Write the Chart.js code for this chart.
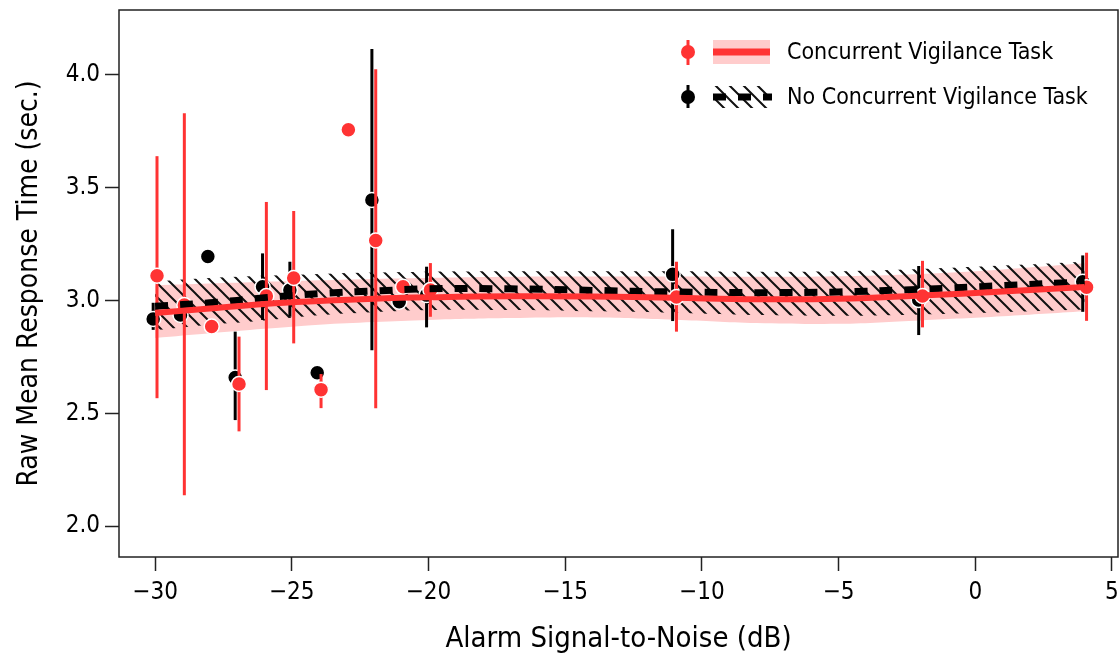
<!DOCTYPE html>
<html>
<head>
<meta charset="utf-8">
<script src="https://cdn.jsdelivr.net/npm/chart.js@4.4.1/dist/chart.umd.min.js"></script>
<style>
    html, body { margin: 0; padding: 0; background: #ffffff; }
    #wrap { width: 1120px; height: 661px; position: relative; }
</style>
</head>
<body>
<div id="wrap"><canvas id="rtChart" width="1120" height="661"></canvas></div>
<script>
const FONT = "'Liberation Sans Narrow', 'DejaVu Sans Condensed', sans-serif";
const RED = "#ff3333";
const PINK = "#ffcccc";

// Alarm signal-to-noise levels (dB)
const snr = [-30, -29, -28, -27, -26, -25, -24, -23, -22, -21, -20, -11, -2, 4];

// Concurrent vigilance task: mean and error bar ends
const concMean = [3.11, 2.98, 2.885, 2.63, 3.02, 3.10, 2.605, 3.757, 3.266, 3.061, 3.047, 3.016, 3.02, 3.059];
const concLow  = [2.567, 2.137, null, 2.42, 2.603, 2.81, 2.523, null, 2.523, null, 2.928, 2.862, 2.881, 2.91];
const concHigh = [3.64, 3.83, null, 2.84, 3.437, 3.397, 2.674, null, 4.025, null, 3.166, 3.172, 3.176, 3.212];

// No concurrent vigilance task
const noConcMean = [2.918, 2.936, 3.195, 2.659, 3.061, 3.047, 2.68, null, 3.446, 2.995, 3.024, 3.116, 3.002, 3.083];
const noConcLow  = [2.87, null, null, 2.47, 2.914, 2.928, null, null, 2.78, null, 2.881, 2.909, 2.847, 2.95];
const noConcHigh = [2.99, null, null, 2.862, 3.209, 3.172, null, null, 4.115, null, 3.15, 3.316, 3.153, 3.20];

// Fitted curves with confidence bands
const fitX = [-30, -28, -26, -24, -22, -20, -17, -14, -11, -8, -5, -2, 1, 4];
const concFit   = [2.945, 2.965, 2.985, 2.998, 3.008, 3.014, 3.019, 3.018, 3.012, 3.006, 3.008, 3.022, 3.04, 3.06];
const concUpper = [3.067, 3.075, 3.083, 3.09, 3.096, 3.1, 3.105, 3.106, 3.106, 3.105, 3.108, 3.118, 3.138, 3.165];
const concLower = [2.834, 2.855, 2.875, 2.893, 2.905, 2.914, 2.922, 2.925, 2.915, 2.9, 2.897, 2.912, 2.93, 2.952];
const noConcFit   = [2.975, 2.99, 3.012, 3.031, 3.042, 3.052, 3.052, 3.045, 3.038, 3.035, 3.038, 3.05, 3.066, 3.083];
const noConcUpper = [3.085, 3.1, 3.11, 3.118, 3.124, 3.128, 3.13, 3.13, 3.13, 3.128, 3.13, 3.14, 3.155, 3.172];
const noConcLower = [2.869, 2.893, 2.912, 2.935, 2.948, 2.958, 2.958, 2.952, 2.945, 2.936, 2.932, 2.938, 2.948, 2.96];

const xTicks = [-30, -25, -20, -15, -10, -5, 0, 5];
const yTicks = [2.0, 2.5, 3.0, 3.5, 4.0];

const legendLabels = ["Concurrent Vigilance Task", "No Concurrent Vigilance Task"];

function makeHatch() {
    const size = 14;
    const c = document.createElement("canvas");
    c.width = size;
    c.height = size;
    const g = c.getContext("2d");
    g.strokeStyle = "#111111";
    g.lineWidth = 2;
    g.beginPath();
    g.moveTo(-2, -2); g.lineTo(size + 2, size + 2);
    g.moveTo(-2, size - 2); g.lineTo(2, size + 2);
    g.moveTo(size - 2, -2); g.lineTo(size + 2, 2);
    g.stroke();
    return g.createPattern(c, "repeat");
}

const hatch = makeHatch();

function curve(values) {
    return fitX.map((x, i) => ({ x, y: values[i] }));
}

function points(means, lows, highs, shift) {
    const out = [];
    snr.forEach((x, i) => {
        if (means[i] === null) return;
        out.push({ x: x + shift, y: means[i], lo: lows[i], hi: highs[i] });
    });
    return out;
}

// Vertical error bars, drawn under each point dataset
const errorBarPlugin = {
    id: "errorBars",
    beforeDatasetDraw(chart, args) {
        const ds = chart.data.datasets[args.index];
        if (!ds.errorColor) return;
        const { ctx, scales: { x, y } } = chart;
        ctx.save();
        ctx.strokeStyle = ds.errorColor;
        ctx.lineWidth = 3;
        ds.data.forEach((p) => {
            if (p.lo === null || p.hi === null) return;
            const px = x.getPixelForValue(p.x);
            ctx.beginPath();
            ctx.moveTo(px, y.getPixelForValue(p.lo));
            ctx.lineTo(px, y.getPixelForValue(p.hi));
            ctx.stroke();
        });
        ctx.restore();
    }
};

// Frame round the plot area plus the legend
const framePlugin = {
    id: "frameLegend",
    afterDraw(chart) {
        const { ctx, chartArea: a } = chart;
        ctx.save();
        ctx.strokeStyle = "#222222";
        ctx.lineWidth = 1.5;
        ctx.strokeRect(a.left, a.top, a.right - a.left, a.bottom - a.top);

        // row 1: concurrent
        let cy = 52;
        ctx.strokeStyle = RED;
        ctx.lineWidth = 3;
        ctx.beginPath(); ctx.moveTo(688, cy - 12); ctx.lineTo(688, cy + 13); ctx.stroke();
        ctx.fillStyle = RED;
        ctx.beginPath(); ctx.arc(688, cy, 7, 0, Math.PI * 2); ctx.fill();
        ctx.fillStyle = PINK;
        ctx.fillRect(713, cy - 12, 57, 24);
        ctx.strokeStyle = RED;
        ctx.lineWidth = 7;
        ctx.beginPath(); ctx.moveTo(713, cy); ctx.lineTo(770, cy); ctx.stroke();

        // row 2: no concurrent
        cy = 97;
        ctx.strokeStyle = "#000000";
        ctx.lineWidth = 3;
        ctx.beginPath(); ctx.moveTo(688, cy - 12); ctx.lineTo(688, cy + 11); ctx.stroke();
        ctx.fillStyle = "#000000";
        ctx.beginPath(); ctx.arc(688, cy, 7, 0, Math.PI * 2); ctx.fill();
        ctx.fillStyle = hatch;
        ctx.fillRect(713, cy - 11, 57, 22);
        ctx.strokeStyle = "#000000";
        ctx.lineWidth = 7;
        ctx.setLineDash([13, 12]);
        ctx.beginPath(); ctx.moveTo(713, cy); ctx.lineTo(772, cy); ctx.stroke();
        ctx.setLineDash([]);

        ctx.fillStyle = "#000000";
        ctx.font = "23px " + FONT;
        ctx.textBaseline = "middle";
        ctx.fillText(legendLabels[0], 787, 53);
        ctx.fillText(legendLabels[1], 787, 98);
        ctx.restore();
    }
};

const fmtMinus = (v) => (v < 0 ? "\u2212" + Math.abs(v) : String(v));

const zeroPad = (s) => { s.paddingLeft = 0; s.paddingRight = 0; s.paddingTop = 0; s.paddingBottom = 0; };

new Chart(document.querySelector("#rtChart"), {
    type: "scatter",
    data: {
        datasets: [
            {
                type: "line", data: curve(concUpper), fill: "+1", backgroundColor: PINK,
                borderWidth: 0, pointRadius: 0, tension: 0.4, order: 10
            },
            {
                type: "line", data: curve(concLower), fill: false,
                borderWidth: 0, pointRadius: 0, tension: 0.4, order: 10
            },
            {
                type: "line", data: curve(noConcUpper), fill: "+1", backgroundColor: hatch,
                borderWidth: 0, pointRadius: 0, tension: 0.4, order: 9
            },
            {
                type: "line", data: curve(noConcLower), fill: false,
                borderWidth: 0, pointRadius: 0, tension: 0.4, order: 9
            },
            {
                data: points(noConcMean, noConcLow, noConcHigh, -0.07), errorColor: "#000000",
                backgroundColor: "#000000", borderColor: "#ffffff", borderWidth: 1.5,
                pointRadius: 7.5, order: 5
            },
            {
                data: points(concMean, concLow, concHigh, 0.07), errorColor: RED,
                backgroundColor: RED, borderColor: "#ffffff", borderWidth: 1.5,
                pointRadius: 7.5, order: 4
            },
            {
                type: "line", data: curve(noConcFit), fill: false, borderColor: "#000000",
                borderWidth: 7, borderDash: [13, 12], pointRadius: 0, tension: 0.4, order: 3
            },
            {
                type: "line", data: curve(concFit), fill: false, borderColor: RED,
                borderWidth: 6, pointRadius: 0, tension: 0.4, order: 2
            }
        ]
    },
    options: {
        responsive: false,
        animation: false,
        layout: { autoPadding: false, padding: { top: 10, right: 2, left: 0, bottom: 0 } },
        plugins: {
            legend: { display: false },
            tooltip: { enabled: false }
        },
        scales: {
            x: {
                type: "linear",
                min: -31.32,
                max: 5.22,
                afterFit: (s) => { s.height = 104; zeroPad(s); },
                afterBuildTicks: (s) => { s.ticks = xTicks.map((v) => ({ value: v })); },
                grid: { drawOnChartArea: false, tickLength: 14, tickWidth: 1.5, tickColor: "#222222" },
                border: { display: false },
                ticks: {
                    color: "#000000", padding: 7,
                    font: { family: FONT, size: 24 },
                    callback: (v) => fmtMinus(v)
                },
                title: {
                    display: true, text: "Alarm Signal-to-Noise (dB)", color: "#000000",
                    font: { family: FONT, size: 29 }, padding: { top: 0 }
                }
            },
            y: {
                type: "linear",
                min: 1.863,
                max: 4.288,
                afterFit: (s) => { s.width = 119; zeroPad(s); },
                afterBuildTicks: (s) => { s.ticks = yTicks.map((v) => ({ value: v })); },
                grid: { drawOnChartArea: false, tickLength: 14, tickWidth: 1.5, tickColor: "#222222" },
                border: { display: false },
                ticks: {
                    color: "#000000", padding: 5,
                    font: { family: FONT, size: 24 },
                    callback: (v) => v.toFixed(1)
                },
                title: {
                    display: true, text: "Raw Mean Response Time (sec.)", color: "#000000",
                    font: { family: FONT, size: 28 }, padding: { top: 13, bottom: 0 }
                }
            }
        }
    },
    plugins: [errorBarPlugin, framePlugin]
});
</script>
</body>
</html>
